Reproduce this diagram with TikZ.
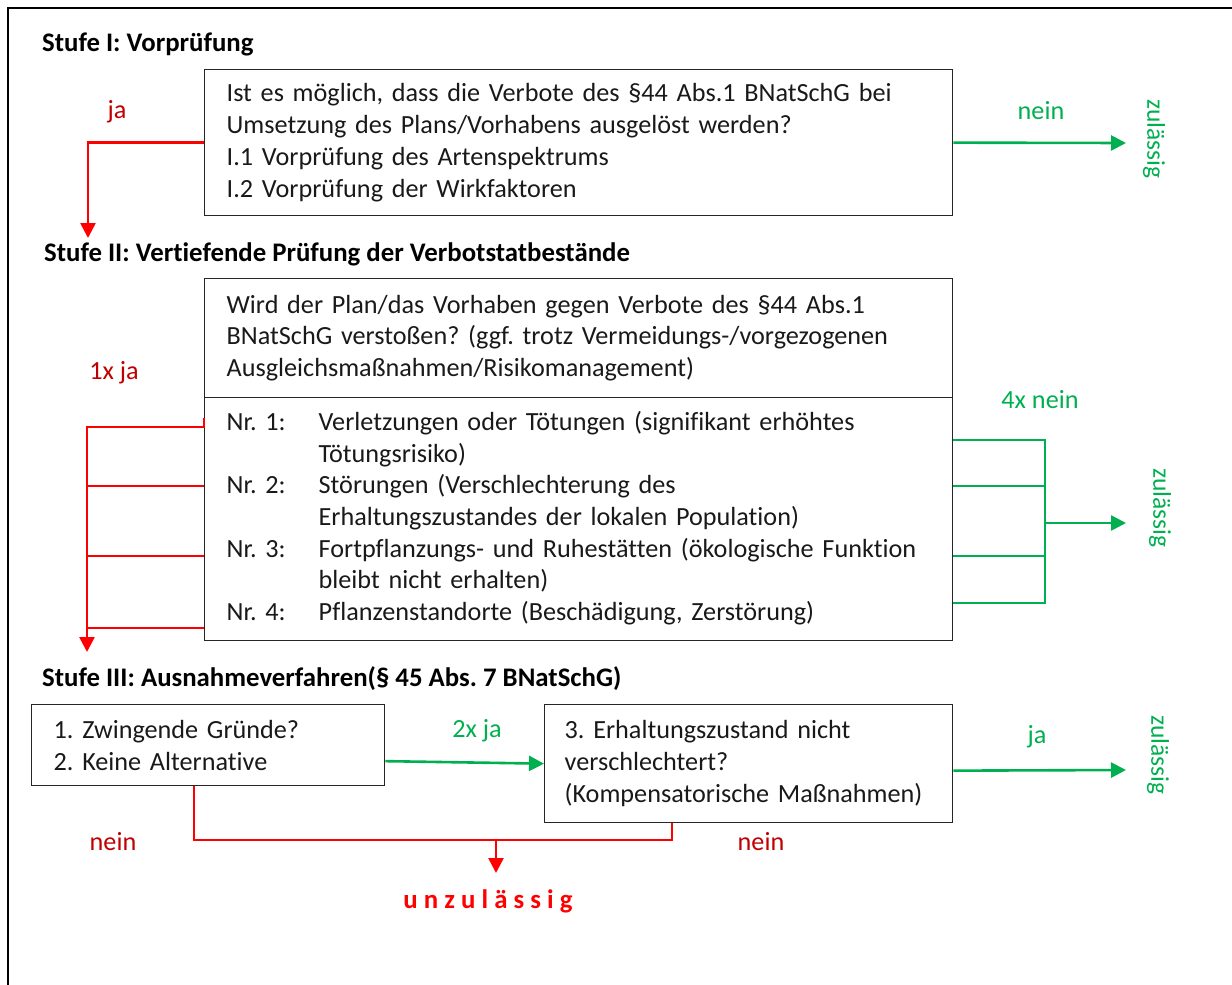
\documentclass[tikz,border=0pt]{standalone}
\usepackage{fontspec}
\setmainfont{Carlito}[Ligatures=NoCommon]
\usetikzlibrary{arrows.meta,calc}
\definecolor{grn}{HTML}{00B050}
\definecolor{rdl}{HTML}{FF0000}
\definecolor{rdt}{HTML}{C00000}
\newcommand{\bodyfnt}{\fontsize{26.2}{31.7}\selectfont\frenchspacing}
\newcommand{\headfnt}{\fontsize{26.8}{30}\selectfont\bfseries\frenchspacing}
\newcommand{\zulfnt}{\fontsize{25.5}{30}\selectfont}
\newcommand{\lsp}{\hspace{6.1pt}}
\tikzset{
  box/.style={draw=black!85, line width=1.3pt, anchor=north west, align=left,
    inner ysep=0pt, font=\bodyfnt, text=black!90},
  head/.style={anchor=west, font=\headfnt, inner sep=0pt},
  lblg/.style={font=\bodyfnt, text=grn, inner sep=0pt},
  lblr/.style={font=\bodyfnt, text=rdt, inner sep=0pt},
  zul/.style={font=\zulfnt, text=grn, rotate=-90, inner sep=0pt},
  tipa/.style={-{Triangle[length=15pt,width=15pt]}},
  gthick/.style={draw=grn, line width=2.6pt},
  gthin/.style={draw=grn, line width=1.4pt},
  rthick/.style={draw=rdl, line width=2.6pt},
  rthin/.style={draw=rdl, line width=1.4pt},
}
\begin{document}
\begin{tikzpicture}[x=1pt,y=-1pt]
\useasboundingbox (0,0) rectangle (1232,985);
% outer frame (left and top edges visible)
\draw[line width=2.6pt] (8,986) -- (8,8) -- (1233,8);

% ---------- Stufe I ----------
\node[head] (h1) at (42,44) {Stufe I: Vorprüfung};
\node[box, inner xsep=22pt, minimum width=748pt, minimum height=146pt, text width=704pt] (b1) at (204,69)
 {Ist es möglich, dass die Verbote des §44 Abs.1 BNatSchG bei\\
  Umsetzung des Plans/Vorhabens ausgelöst werden?\\
  I.1 Vorprüfung des Artenspektrums\\
  I.2 Vorprüfung der Wirkfaktoren};
\node[lblr] (ja1) at (117,112) {ja};
\node[lblg] (nein1) at (1041,111) {nein};
\node[zul] (zul1) at (1154,139) {zulässig};
\coordinate (s2) at (88,238);
\coordinate (z1e) at (1126,143);
\draw[rthick, tipa] (b1.west) -| (s2);
\draw[gthick, tipa] (b1.east) -- (z1e);

% ---------- Stufe II ----------
\node[head] (h2) at (44,254) {Stufe II: Vertiefende Prüfung der Verbotstatbestände};
\node[box, inner xsep=22pt, minimum width=748pt, minimum height=119pt, text width=704pt] (b2a) at (204,278)
 {Wird der Plan/das Vorhaben gegen Verbote des §44 Abs.1\\
  BNatSchG verstoßen? (ggf. trotz Vermeidungs-/vorgezogenen\\
  Ausgleichsmaßnahmen/Risikomanagement)};
\node[box, inner xsep=22pt, minimum width=748pt, minimum height=243pt, text width=704pt] (b2b) at (204,397)
 {\begin{tabular}{@{}p{92pt}@{}l@{}}
  Nr. 1: & Verletzungen oder Tötungen (signifikant erhöhtes\\
         & Tötungsrisiko)\\
  Nr. 2: & Störungen (Verschlechterung des\\
         & Erhaltungszustandes der lokalen Population)\\
  Nr. 3: & Fortpflanzungs- und Ruhestätten (ökologische Funktion\\
         & bleibt nicht erhalten)\\
  Nr. 4: & Pflanzenstandorte (Beschädigung, Zerstörung)
  \end{tabular}};
\node[lblr] (ja2) at (114,373) {1x ja};
\node[lblg] (nein2) at (1040,400) {4x nein};
\node[zul] (zul2) at (1160,508) {zulässig};
% red: 1x ja
\coordinate (r0) at (b2b.west |- {(0,418)});
\coordinate (r1) at (b2b.west |- {(0,427)});
\coordinate (r2) at (b2b.west |- {(0,486)});
\coordinate (r3) at (b2b.west |- {(0,556)});
\coordinate (r4) at (b2b.west |- {(0,628)});
\coordinate (s3) at (87,652);
\draw[rthick, tipa] (r0) -- (r1) -| (s3);
\draw[rthin] (r2) -- (r2 -| s3);
\draw[rthin] (r3) -- (r3 -| s3);
\draw[rthin] (r4) -- (r4 -| s3);
% green: 4x nein
\coordinate (g1) at (b2b.east |- {(0,440)});
\coordinate (g2) at (b2b.east |- {(0,486)});
\coordinate (g3) at (b2b.east |- {(0,556)});
\coordinate (g4) at (b2b.east |- {(0,603)});
\coordinate (gv) at (1045,523);
\coordinate (z2e) at (1126,523);
\draw[gthick] (g1) -| (1045,529);
\draw[gthick, tipa] (gv) -- (z2e);
\draw[gthin] (g2) -- (g2 -| gv);
\draw[gthin] (g3) -- (g3 -| gv);
\draw[gthin] (g4) -| (gv);

% ---------- Stufe III ----------
\node[head] (h3) at (42,679) {Stufe III: Ausnahmeverfahren(§ 45 Abs. 7 BNatSchG)};
\node[box, inner xsep=22pt, minimum width=353pt, minimum height=81pt, text width=309pt] (b3a) at (31,704)
 {1. Zwingende Gründe?\\
  2. Keine Alternative};
\node[box, inner xsep=20pt, minimum width=408pt, minimum height=118pt, text width=368pt] (b3b) at (544,704)
 {3. Erhaltungszustand nicht\\
  verschlechtert?\\
  (Kompensatorische Maßnahmen)};
\node[lblg] (ja3a) at (477,731) {2x ja};
\node[lblg] (ja3b) at (1037,737) {ja};
\node[zul] (zul3) at (1158,755) {zulässig};
\node[lblr] (nein3a) at (113,842) {nein};
\node[lblr] (nein3b) at (761,842) {nein};
\node[font=\headfnt, text=rdl, inner sep=0pt] (unz) at (488,901)
 {u\lsp n\lsp z\lsp u\lsp l\lsp ä\lsp s\lsp s\lsp i\lsp g};
\draw[gthick, tipa] ([yshift=-16pt]b3a.east) -- (b3b.west);
\coordinate (z3e) at (1126,770);
\draw[gthick, tipa] ([yshift=-7pt]b3b.east) -- (z3e);
\coordinate (n1) at ($(b3a.south west)+(163,0)$);
\coordinate (n2) at ($(b3b.south west)+(128,0)$);
\coordinate (nj) at (496,840);
\coordinate (ne) at (496,873);
\draw[rthin] (n1) |- (nj) -| (n2);
\draw[rthick, tipa] (nj) -- (ne);
\end{tikzpicture}
\end{document}
